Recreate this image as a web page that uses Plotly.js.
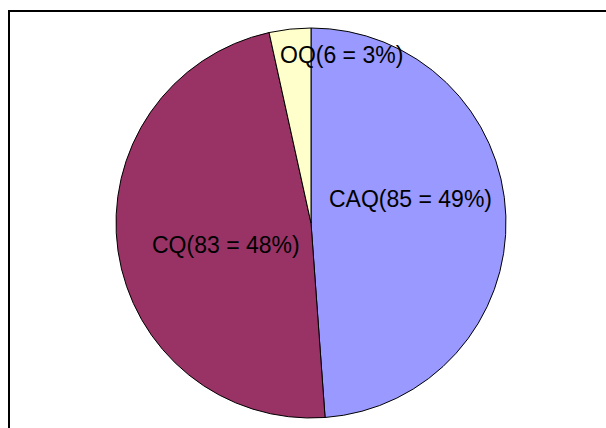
<!DOCTYPE html>
<html>
<head>
<meta charset="utf-8">
<script src="https://cdn.plot.ly/plotly-3.0.1.min.js"></script>
<style>
html,body{margin:0;padding:0;background:#fff;}
#chart{width:606px;height:428px;}
</style>
</head>
<body>
<div id="chart"></div>
<script>
const categories = ["CAQ", "CQ", "OQ"];
const values = [85, 83, 6];
const colors = ["#9999FF", "#993366", "#FFFFCC"];

const W = 606, H = 428;
const total = values.reduce((a, b) => a + b, 0);
const labelText = categories.map((c, i) => c + "(" + values[i] + " = " + Math.round(values[i] / total * 100) + "%)");

// label anchor positions in pixels (layout only)
const labelPos = [[410.5, 199], [225.5, 245], [341.5, 55]];

const cx = 311, cy = 223, r = 195;

const trace = {
  type: "pie",
  labels: categories,
  values: values,
  sort: false,
  direction: "clockwise",
  rotation: 0,
  marker: { colors: colors, line: { color: "#000000", width: 1 } },
  textinfo: "none",
  hoverinfo: "none",
  showlegend: false,
  domain: { x: [(cx - r) / W, (cx + r) / W], y: [1 - (cy + r) / H, 1 - (cy - r) / H] }
};

const annotations = labelText.map((t, i) => ({
  xref: "paper", yref: "paper",
  x: labelPos[i][0] / W, y: 1 - labelPos[i][1] / H,
  xanchor: "center", yanchor: "middle",
  text: t, showarrow: false,
  font: { family: "Liberation Sans, Arial, sans-serif", size: 23, color: "#000000" }
}));

const layout = {
  width: W, height: H,
  margin: { l: 0, r: 0, t: 0, b: 0, pad: 0 },
  paper_bgcolor: "#ffffff",
  plot_bgcolor: "#ffffff",
  showlegend: false,
  annotations: annotations,
  shapes: [
    { type: "line", xref: "paper", yref: "paper", x0: 9 / W, x1: 1.05, y0: 1 - 11 / H, y1: 1 - 11 / H, line: { color: "#000000", width: 2 } },
    { type: "line", xref: "paper", yref: "paper", x0: 9 / W, x1: 9 / W, y0: 1 - 10 / H, y1: -0.05, line: { color: "#000000", width: 2 } }
  ]
};

Plotly.newPlot("chart", [trace], layout, { staticPlot: true, displayModeBar: false });
</script>
</body>
</html>
